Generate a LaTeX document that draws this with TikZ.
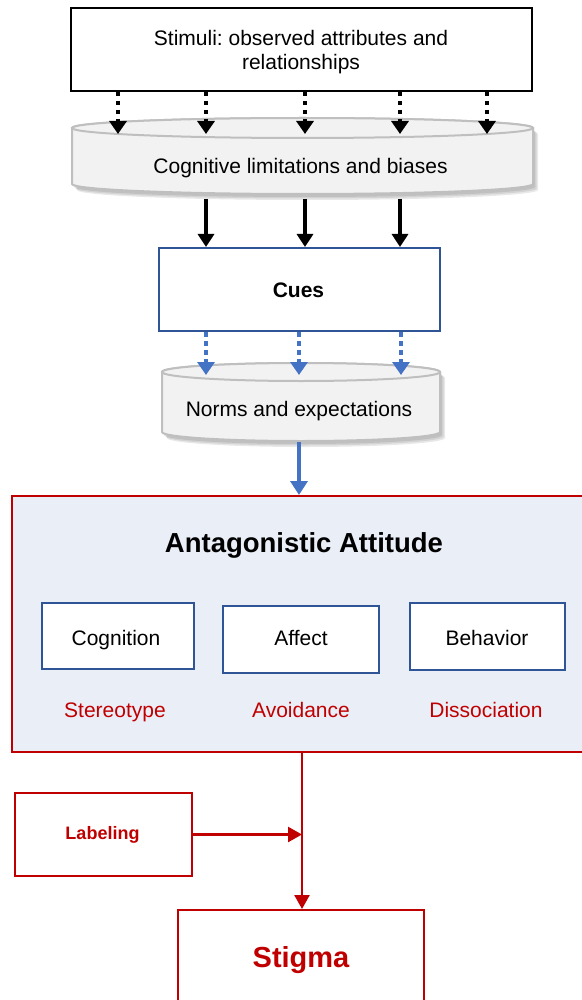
\documentclass[tikz,border=0pt]{standalone}
\usepackage{fontspec}
\setmainfont{Liberation Sans}
\usetikzlibrary{arrows.meta}
\frenchspacing
\definecolor{dblue}{HTML}{2F5597}
\definecolor{lblue}{HTML}{4472C4}
\definecolor{dred}{HTML}{C00000}
\definecolor{pale}{HTML}{EAEEF7}
\definecolor{cylfill}{HTML}{F2F2F2}
\definecolor{cylline}{HTML}{BFBFBF}
\newcommand{\mycylbody}[5]{% x1 x2 ytop ybot rx ; ry in \cylry
  (#1,#3) -- (#1,#4) arc[start angle=180,end angle=360,x radius=#5pt,y radius=\cylry pt]
  -- (#2,#3) arc[start angle=0,end angle=180,x radius=#5pt,y radius=\cylry pt] -- cycle}
\begin{document}
\begin{tikzpicture}[x=1pt,y=-1pt,
  txt/.style={font=\fontsize{21}{24}\selectfont,text height=15pt,text depth=0pt,inner sep=0pt},
  box/.style={draw,line width=2pt,fill=white,inner sep=0pt},
  bluebox/.style={box,draw=dblue},
  redbox/.style={box,draw=dred},
  redtext/.style={txt,text=dred},
  dotblack/.style={line width=4pt,dash pattern=on 4.5pt off 4.5pt,-{Triangle[width=17pt,length=13pt]}},
  solidblack/.style={line width=3.5pt,-{Triangle[width=16pt,length=13pt]}},
  dotblue/.style={draw=lblue,line width=4pt,dash pattern=on 4.5pt off 4.5pt,-{Triangle[width=17pt,length=13pt,fill=lblue]}},
  solidblue/.style={draw=lblue,line width=4pt,-{Triangle[width=17pt,length=14pt,fill=lblue]}},
  redarrow/.style={draw=dred,line width=2.5pt,-{Triangle[width=15pt,length=14pt,fill=dred]}},
  cyl/.style={fill=cylfill,draw=cylline,line width=2pt},
  cylshadow/.style={fill=black,opacity=0.09}
]
\useasboundingbox (0,0) rectangle (581,1000);

% ---------- Stimuli ----------
\node[box,minimum width=461pt,minimum height=83pt] (stim) at (301.5,49.5) {};
\node[txt] (stimA) at (301,38) {Stimuli: observed attributes and};
\node[txt] (stimB) at (301,62) {relationships};

% ---------- Cylinder 1 ----------
\def\cylry{10}
\foreach \s in {2,3.5,5}{
  \begin{scope}[shift={(\s,\s+1)}]
    \fill[cylshadow] \mycylbody{72}{533}{128}{184}{230.5};
  \end{scope}
}
\path[cyl] \mycylbody{72}{533}{128}{184}{230.5};
\path[cyl] (302.5,128) ellipse[x radius=230.5pt,y radius=10pt];
\node[txt] (cog) at (300.5,166) {Cognitive limitations and biases};

\foreach \i/\x in {1/118,2/206,3/305,4/400,5/487}{
  \coordinate (d\i) at (\x,134);
  \draw[dotblack] (stim.south -| d\i) -- (d\i);
}

% ---------- Cues ----------
\node[bluebox,minimum width=281pt,minimum height=83pt] (cues) at (299.5,289.5) {};
\node[txt,font=\fontsize{21}{24}\selectfont\bfseries] (cuesT) at (298.5,290) {Cues};

\foreach \i/\x in {1/206,2/305,3/400}{
  \coordinate (s\i) at (\x,199);
  \draw[solidblack] (s\i) -- (cues.north -| s\i);
}

% ---------- Cylinder 2 ----------
\def\cylry{9}
\foreach \s in {2,3.5,5}{
  \begin{scope}[shift={(\s,\s+1)}]
    \fill[cylshadow] \mycylbody{162}{440}{372}{432}{139};
  \end{scope}
}
\path[cyl] \mycylbody{162}{440}{372}{432}{139};
\path[cyl] (301,372) ellipse[x radius=139pt,y radius=9pt];
\node[txt] (norms) at (299,409) {Norms and expectations};

\foreach \i/\x in {1/206,2/299,3/401}{
  \coordinate (b\i) at (\x,375);
  \draw[dotblue] (cues.south -| b\i) -- (b\i);
}

% ---------- Antagonistic Attitude ----------
\node[redbox,fill=pale,minimum width=580pt,minimum height=256pt] (antag) at (302,624) {};
\node[txt,font=\fontsize{27.5}{30}\selectfont\bfseries,text height=19.7pt] (title) at (304,542.5) {Antagonistic Attitude};

\coordinate (n0) at (299,442);
\draw[solidblue] (n0) -- (antag.north -| n0);

\node[bluebox,minimum width=152pt,minimum height=66pt] (cogn) at (118,636) {};
\node[bluebox,minimum width=156pt,minimum height=67pt] (aff) at (301,639.5) {};
\node[bluebox,minimum width=155pt,minimum height=67pt] (beh) at (487.5,636.5) {};
\node[txt] (cognT) at (116,638) {Cognition};
\node[txt] (affT) at (301,638) {Affect};
\node[txt] (behT) at (487,638) {Behavior};

\node[redtext] (ster) at (115,710) {Stereotype};
\node[redtext] (avoid) at (301,710) {Avoidance};
\node[redtext] (diss) at (486,710) {Dissociation};

% ---------- Labeling & Stigma ----------
\node[redbox,minimum width=177pt,minimum height=83pt] (lab) at (103.5,834.5) {};
\node[redtext,font=\fontsize{18}{20}\selectfont\bfseries,text height=12.9pt] (labT) at (102.5,833) {Labeling};
\node[redbox,minimum width=246pt,minimum height=96pt] (stigma) at (301,958) {};
\node[redtext,font=\fontsize{29}{32}\selectfont\bfseries,text height=20.8pt] (stigT) at (301,957) {Stigma};

\coordinate (vj) at (302,0);
\draw[redarrow] (antag.south -| vj) -- (stigma.north -| vj);
\draw[redarrow] (lab.east) -- (lab.east -| vj);
\end{tikzpicture}
\end{document}
